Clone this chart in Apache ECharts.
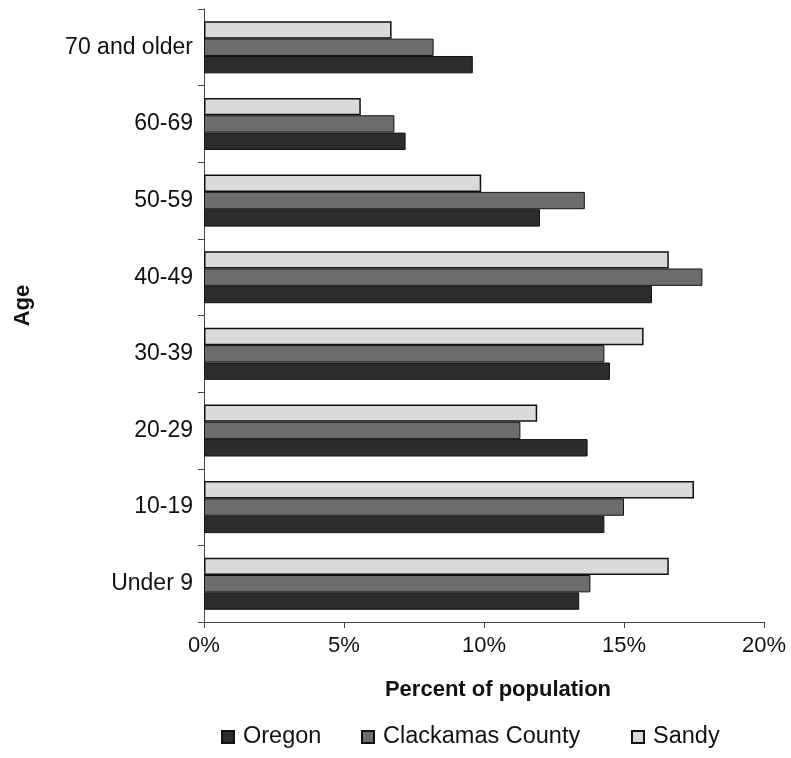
<!DOCTYPE html>
<html>
<head>
<meta charset="utf-8">
<script src="https://cdn.jsdelivr.net/npm/echarts@6/dist/echarts.min.js"></script>
<style>html,body{margin:0;padding:0;background:#fff;}#c{width:791px;height:758px;}</style>
</head>
<body>
<div id="c"></div>
<script>
const categories = ["Under 9", "10-19", "20-29", "30-39", "40-49", "50-59", "60-69", "70 and older"];
const oregon = [13.4, 14.3, 13.7, 14.5, 16.0, 12.0, 7.2, 9.6];
const clackamas = [13.8, 15.0, 11.3, 14.3, 17.8, 13.6, 6.8, 8.2];
const sandy = [16.6, 17.5, 11.9, 15.7, 16.6, 9.9, 5.6, 6.7];
const xTicks = [0, 5, 10, 15, 20];

const font = "Liberation Sans, Arial, sans-serif";
const legendText = { fontFamily: font, fontSize: 23.5, color: '#111', padding: [0, 0, 0, 4] };
function mkLegend(name, left) {
  return { left: left, top: 720, itemWidth: 12, itemHeight: 12, icon: 'rect',
    textStyle: legendText, data: [name] };
}
const chart = echarts.init(document.getElementById('c'));
chart.setOption({
  animation: false,
  backgroundColor: '#ffffff',
  grid: { left: 204, right: 27, top: 9, bottom: 136, containLabel: false },
  legend: [mkLegend('Oregon', 216), mkLegend('Clackamas County', 356), mkLegend('Sandy', 626)],
  xAxis: {
    type: 'value', min: xTicks[0], max: xTicks[xTicks.length - 1], interval: 5,
    name: 'Percent of population', nameLocation: 'middle', nameGap: 57,
    nameTextStyle: { fontFamily: font, fontSize: 22, fontWeight: 'bold', color: '#111', padding: [0, 0, 0, 28] },
    axisLine: { show: true, lineStyle: { color: '#444', width: 1 } },
    axisTick: { show: true, length: 6, lineStyle: { color: '#444' } },
    splitLine: { show: false },
    axisLabel: { fontFamily: font, fontSize: 22, color: '#111', margin: 13, formatter: v => v + '%' }
  },
  yAxis: {
    type: 'category', data: categories,
    name: 'Age', nameLocation: 'middle', nameGap: 170, nameRotate: 90,
    nameTextStyle: { fontFamily: font, fontSize: 22, fontWeight: 'bold', color: '#111', padding: [0, 0, 0, 20] },
    axisLine: { show: true, lineStyle: { color: '#444', width: 1 } },
    axisTick: { show: true, length: 6, lineStyle: { color: '#444' } },
    axisLabel: { fontFamily: font, fontSize: 23, color: '#111', margin: 11 }
  },
  series: [
    { name: 'Sandy', type: 'bar', data: sandy, barGap: '0%', barCategoryGap: '32%',
      itemStyle: { color: '#dadada', borderColor: '#111', borderWidth: 1.5 } },
    { name: 'Clackamas County', type: 'bar', data: clackamas, barGap: '0%', barCategoryGap: '32%',
      itemStyle: { color: '#6c6c6c', borderColor: '#111', borderWidth: 1 } },
    { name: 'Oregon', type: 'bar', data: oregon, barGap: '0%', barCategoryGap: '32%',
      itemStyle: { color: '#2c2c2c', borderColor: '#111', borderWidth: 1 } }
  ]
});
</script>
</body>
</html>
